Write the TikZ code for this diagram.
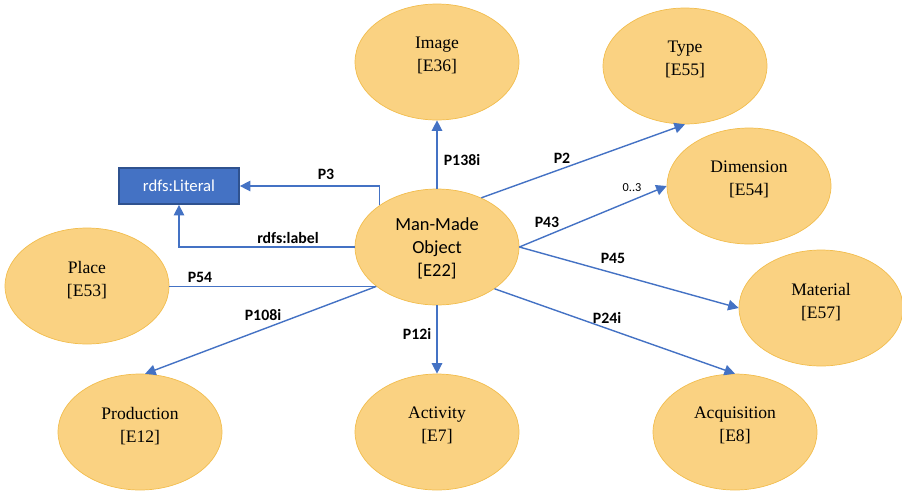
\documentclass[tikz,border=0pt]{standalone}
\usepackage{fontspec}
\setmainfont{Liberation Serif}
\newfontfamily\serifface{Liberation Serif}
\newfontfamily\calibri{Carlito}
\usetikzlibrary{shapes.geometric, arrows.meta}
\definecolor{linkblue}{HTML}{4472C4}
\definecolor{boxedge}{HTML}{2F528F}
\definecolor{ovalfill}{HTML}{FAD282}
\definecolor{ovaledge}{HTML}{F2BD4E}
\tikzstyle{entity} = [ellipse, minimum width=3.28cm, minimum height=2.32cm, inner sep=0pt, align=center, text depth=8.5pt, fill=ovalfill, draw=ovaledge, font=\serifface\fontsize{10}{13}\selectfont]
\tikzstyle{literal} = [rectangle, minimum width=2.4cm, minimum height=0.72cm, fill=linkblue, draw=boxedge, line width=1pt, text=white, font=\calibri\fontsize{9.5}{11}\selectfont]
\tikzstyle{arrow} = [line width=0.8pt, draw=linkblue, -{Triangle[length=6pt,width=6pt]}]
\tikzstyle{plain} = [line width=0.8pt, draw=linkblue]
\tikzstyle{prop} = [font=\calibri\bfseries\fontsize{9}{11}\selectfont]
\begin{document}
\begin{tikzpicture}[x=0.02cm, y=-0.02cm]
    \useasboundingbox (0,0) rectangle (902,495);
    % classes
    \node[entity, text depth=0pt, font=\calibri\fontsize{10.5}{13}\selectfont] (obj) at (437, 247) {Man-Made\\ Object\\ {[E22]}};
    \node[entity] (img) at (437, 62) {Image\\ {[E36]}};
    \node[entity] (type) at (685, 66) {Type\\ {[E55]}};
    \node[entity] (dim) at (749, 186) {Dimension\\ {[E54]}};
    \node[entity] (mat) at (821, 308) {Material\\ {[E57]}};
    \node[entity] (acq) at (735, 432) {Acquisition\\ {[E8]}};
    \node[entity] (act) at (437, 432) {Activity\\ {[E7]}};
    \node[entity] (prod) at (140, 432) {Production\\ {[E12]}};
    \node[entity] (place) at (87, 286) {Place\\ {[E53]}};
    \node[literal] (lit) at (179, 186) {rdfs:Literal};
    % properties
    \draw[arrow] (obj.144) |- (lit.east);
    \draw[arrow] (obj.west) -| (lit.south);
    \draw[plain] (place.east |- obj.213) -- (obj.213);
    \draw[arrow] (obj.213) -- (prod.85);
    \draw[arrow] (obj.north) -- (img.south);
    \draw[arrow] (obj.48) -- (type.south);
    \draw[arrow] (obj.east) -- (dim.west);
    \draw[arrow] (obj.east) -- (mat.west);
    \draw[arrow] (obj.-36) -- (acq.north);
    \draw[arrow] (obj.south) -- (act.north);
    % labels
    \node[prop] (lp3) at (326, 174) {P3};
    \node[prop] (llabel) at (288, 238) {rdfs:label};
    \node[prop] (lp54) at (200, 277) {P54};
    \node[prop] (lp108) at (263, 315) {P108i};
    \node[prop] (lp12) at (417, 334) {P12i};
    \node[prop] (lp24) at (607, 318) {P24i};
    \node[prop] (lp45) at (613, 258) {P45};
    \node[prop] (lp43) at (547, 222) {P43};
    \node[font=\calibri\fontsize{7}{8}\selectfont] (card) at (632, 188) {0..3};
    \node[prop] (lp2) at (562, 158) {P2};
    \node[prop] (lp138) at (462, 160) {P138i};
\end{tikzpicture}
\end{document}
